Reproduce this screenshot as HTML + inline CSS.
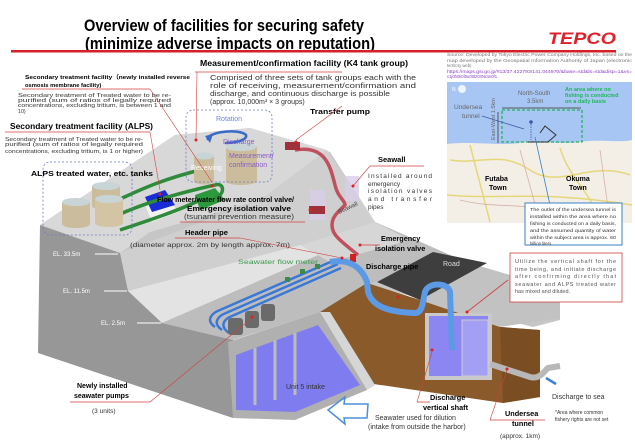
<!DOCTYPE html>
<html><head><meta charset="utf-8"><style>
html,body{margin:0;padding:0;background:#fff;width:635px;height:448px;overflow:hidden}
svg{display:block}
text{font-family:"Liberation Sans",sans-serif}
.b{font-weight:bold}
</style></head><body>
<svg width="635" height="448" viewBox="0 0 635 448" xmlns="http://www.w3.org/2000/svg">
<!-- Title -->
<text x="84" y="31" class="b" font-size="17" textLength="280" lengthAdjust="spacingAndGlyphs">Overview of facilities for securing safety</text>
<text x="85" y="49" class="b" font-size="17" textLength="290" lengthAdjust="spacingAndGlyphs">(minimize adverse impacts on reputation)</text>
<rect x="11" y="50" width="605" height="2.5" fill="#d4202a"/>
<text x="548" y="44" class="b" font-size="17" fill="#e0202a" font-style="italic" textLength="68" lengthAdjust="spacingAndGlyphs">TEPCO</text>

<!-- Map -->
<text x="447" y="56" font-size="4.2" fill="#777" textLength="185" lengthAdjust="spacingAndGlyphs">Source: Developed by Tokyo Electric Power Company Holdings, Inc. based on the</text>
<text x="447" y="62" font-size="4.2" fill="#777" textLength="185" lengthAdjust="spacingAndGlyphs">map developed by the Geospatial Information Authority of Japan (electronic</text>
<text x="447" y="67" font-size="4.2" fill="#777">territory web)</text>
<text x="447" y="73" font-size="4.2" fill="#8a3cc8" textLength="185" lengthAdjust="spacingAndGlyphs">https://maps.gsi.go.jp/#13/37.422793/141.044970/&amp;base=std&amp;ls=std&amp;disp=1&amp;vs=</text>
<text x="447" y="78" font-size="4.2" fill="#8a3cc8">c1j0h0k0l0u0t0z0r0s0m0f1</text>
<rect x="447" y="82" width="185" height="141" fill="#f3efe6"/>
<path d="M447,82 H632 V140 C620,143 600,139 580,142 C560,145 540,140 520,143 C500,146 470,141 447,144 Z" fill="#a8c6f4"/>
<g stroke="#e6d77a" stroke-width="1.5" fill="none">
<path d="M450,160 C480,165 500,150 530,170 S590,160 630,175"/>
<path d="M470,145 L490,222"/><path d="M560,148 C570,180 590,190 600,222"/>
<path d="M447,195 C500,200 540,190 632,205"/>
</g>
<g stroke="#d8b0a8" stroke-width="0.8" fill="none">
<path d="M460,200 C500,210 520,200 560,215"/><path d="M520,150 L540,222"/><path d="M600,150 L610,222"/>
</g>
<circle cx="462" cy="89" r="4" fill="#fff" opacity="0.8"/>
<text x="452" y="91" font-size="5" fill="#fff">N</text>
<rect x="502" y="110" width="80" height="32" fill="none" stroke="#1fb55a" stroke-width="1.3" stroke-dasharray="3,2"/>
<line x1="502" y1="108" x2="581" y2="108" stroke="#555" stroke-width="1"/>
<line x1="498" y1="112" x2="498" y2="143" stroke="#555" stroke-width="1"/>
<text x="518" y="95" font-size="6" fill="#666">North-South</text>
<text x="527" y="103" font-size="6" fill="#666">3.5km</text>
<text x="565" y="91" font-size="5.5" class="b" fill="#1fb55a">An area where no</text>
<text x="565" y="97" font-size="5.5" class="b" fill="#1fb55a">fishing is conducted</text>
<text x="565" y="103" font-size="5.5" class="b" fill="#1fb55a">on a daily basis</text>
<text x="454" y="109" font-size="6.5" fill="#666">Undersea</text>
<text x="462" y="118" font-size="6.5" fill="#666">tunnel</text>
<line x1="482" y1="116" x2="524" y2="129" stroke="#3a5aa8" stroke-width="0.8"/>
<circle cx="531" cy="122" r="1.8" fill="#3a5aa8"/>
<line x1="531" y1="124" x2="531" y2="140" stroke="#3a5aa8" stroke-width="0.8" stroke-dasharray="1.5,1"/>
<path d="M528,142 L548,142 L556,135 L545,126 L540,133" fill="none" stroke="#333" stroke-width="1"/>
<text transform="translate(495,140) rotate(-90)" font-size="5.5" fill="#666">East-West 1.5km</text>
<text x="485" y="181" font-size="7" class="b">Futaba</text>
<text x="489" y="190" font-size="7" class="b">Town</text>
<text x="566" y="181" font-size="7" class="b">Okuma</text>
<text x="569" y="190" font-size="7" class="b">Town</text>
<line x1="535" y1="137" x2="550" y2="205" stroke="#3a80c8" stroke-width="0.8"/>
<rect x="525" y="203" width="97" height="42" fill="#fff" stroke="#3a80c8" stroke-width="1"/>
<g font-size="4.3" fill="#333">
<text x="530" y="211" textLength="86" lengthAdjust="spacingAndGlyphs">The outlet of the undersea tunnel is</text>
<text x="530" y="218" textLength="86" lengthAdjust="spacingAndGlyphs">installed within the area where no</text>
<text x="530" y="225" textLength="86" lengthAdjust="spacingAndGlyphs">fishing is conducted on a daily basis,</text>
<text x="530" y="232" textLength="86" lengthAdjust="spacingAndGlyphs">and the assumed quantity of water</text>
<text x="530" y="239" textLength="86" lengthAdjust="spacingAndGlyphs">within the subject area is approx. 60</text>
<text x="530" y="245" >billion liters.</text>
</g>

<!-- Structure -->
<polygon points="40,225 175,135 250,128 330,152 375,222 450,255 560,300 560,320 533,327 367,285 320,312 233,340 162,323 128,291 120,253" fill="#c6c6c6"/>
<!-- top slab surface -->
<polygon points="40,225 175,135 250,128 327,150 260,200 150,232 120,253" fill="#d8d8d8"/>
<!-- slope bands -->
<polygon points="120,253 260,200 327,150 375,222 300,245 128,291" fill="#cfcfcf"/>
<polygon points="128,291 300,245 330,250 162,323" fill="#e3e3e3"/>
<polygon points="162,323 330,250 375,222 450,255 367,285 320,312 233,340" fill="#bdbdbd"/>
<polygon points="300,245 375,222 410,240 330,262" fill="#d6d6d6"/>
<!-- dark left face -->
<polygon points="40,225 120,253 128,291 162,323 233,340 233,418 38,353" fill="#979797"/>
<!-- road & pavement -->
<polygon points="433,252 560,290 560,318 500,327 420,300 487,263" fill="#c2c2c2"/>
<polygon points="377,282 433,252 487,263 420,300" fill="#3e3e3e"/>
<!-- brown earth -->
<polygon points="320,312 367,283 420,300 500,327 540,330 540,397 503,403 367,383" fill="#8a5a2a"/>
<polygon points="500,327 540,330 540,397 503,403" fill="#7a4e22"/>
<!-- shaft -->
<rect x="425" y="313" width="67" height="67" fill="#c9c9c9"/>
<rect x="429" y="316" width="59" height="60" fill="#8c86f2"/>
<rect x="462" y="320" width="26" height="56" fill="#a39ff5" stroke="#ccc" stroke-width="1"/>
<!-- intake pit -->
<polygon points="228,342 320,312 367,383 367,390 295,420 233,418" fill="#b0b0b0"/>
<polygon points="236,355 318,325 360,385 295,412 236,410" fill="#7f7cf0"/>
<g stroke="#bcbcbc" stroke-width="3"><line x1="255" y1="348" x2="255" y2="405"/><line x1="275" y1="340" x2="275" y2="400"/><line x1="295" y1="333" x2="295" y2="395"/></g>
<polygon points="320,312 330,312 375,385 367,390" fill="#d6d6d6"/>
<!-- ALPS area pads -->
<polygon points="145,205 168,197 178,212 152,222" fill="#f2f2f2"/>
<polygon points="145,197 165,190 175,205 152,212" fill="#1a2cd8"/>
<polygon points="195,195 215,188 225,200 200,210" fill="#2c9a3c"/>
<!-- green pipes -->
<g stroke="#2e8b3a" stroke-width="3.5" fill="none">
<path d="M118,200 C140,190 160,180 200,170 C210,168 215,175 210,180"/>
<path d="M118,215 C140,205 170,195 215,185 C225,182 225,195 215,198"/>
<path d="M120,230 C150,220 180,210 200,200"/>
</g>
<!-- ALPS tanks -->
<g>
<rect x="62" y="202" width="28" height="22" fill="#cbbd9c"/><ellipse cx="76" cy="224" rx="14" ry="4" fill="#cbbd9c"/><ellipse cx="76" cy="202" rx="14" ry="4" fill="#c8d4d6"/>
<rect x="92" y="186" width="28" height="20" fill="#cbbd9c"/><ellipse cx="106" cy="206" rx="14" ry="4" fill="#cbbd9c"/><ellipse cx="106" cy="186" rx="14" ry="4" fill="#c8d4d6"/>
<rect x="95" y="199" width="28" height="24" fill="#d3c5a4"/><ellipse cx="109" cy="223" rx="14" ry="4" fill="#d3c5a4"/><ellipse cx="109" cy="199" rx="14" ry="4" fill="#c8d4d6"/>
<rect x="194" y="156" width="20" height="25" fill="#cbbd9c"/><ellipse cx="204" cy="181" rx="10" ry="3.5" fill="#cbbd9c"/><ellipse cx="204" cy="156" rx="10" ry="3.5" fill="#c8d4d6"/>
<rect x="226" y="147" width="31" height="34" fill="#cbbd9c"/><ellipse cx="241" cy="181" rx="15.5" ry="4" fill="#cbbd9c"/><ellipse cx="241" cy="147" rx="15.5" ry="4" fill="#c8d4d6"/>
</g>
<rect x="43" y="162" width="89" height="73" rx="7" fill="none" stroke="#6a7bc8" stroke-width="0.8" stroke-dasharray="2,2"/>
<rect x="186" y="110" width="86" height="72" rx="7" fill="none" stroke="#6a7bc8" stroke-width="0.8" stroke-dasharray="2,2"/>
<path d="M208,140 C205,132 240,128 246,135 C248,140 235,143 225,143" fill="none" stroke="#3a6ac8" stroke-width="2.5"/>
<polygon points="205,136 213,134 210,143" fill="#3a6ac8"/>
<!-- seawall -->
<rect x="310" y="190" width="15" height="30" fill="#d8cde8" opacity="0.8"/>
<rect x="345" y="176" width="14" height="25" fill="#d8cde8" opacity="0.8"/>
<!-- red transfer pipe -->
<path d="M295,150 C325,145 330,165 335,185 C338,198 345,200 345,205 L338,212 C330,220 330,230 338,238 C345,245 352,250 358,255" fill="none" stroke="#c0505e" stroke-width="3.5"/>
<rect x="285" y="142" width="15" height="8" fill="#a0303a"/>
<rect x="309" y="206" width="16" height="8" fill="#a0303a"/>
<rect x="350" y="254" width="6" height="8" fill="#d02020"/>
<!-- blue pipes -->
<g stroke="#3a78d8" stroke-width="2.5" fill="none">
<path d="M215,327 C205,320 212,313 220,310 L335,260"/>
<path d="M222,330 C212,323 218,316 226,313 L338,264"/>
<path d="M229,333 C219,326 224,319 232,316 L341,268"/>
</g>
<g fill="#3c8a4a"><rect x="285" y="277" width="5" height="5"/><rect x="300" y="269" width="5" height="5"/><rect x="315" y="264" width="5" height="5"/></g>
<path d="M330,262 C350,258 362,268 367,282 L368,292 C372,305 385,312 415,313 C423,313 423,300 425,292 C428,282 448,282 450,292 L452,350" fill="none" stroke="#5c9ae6" stroke-width="6"/>
<path d="M490,364 L530,377 C540,380 545,370 548,368 L560,366" fill="none" stroke="#b8b8b8" stroke-width="6"/>
<path d="M546,378 L556,384" stroke="#3a80d8" stroke-width="2.5"/>
<!-- pumps -->
<g fill="#6a6a6a"><rect x="228" y="318" width="15" height="17" rx="3"/><rect x="245" y="311" width="14" height="17" rx="3"/><rect x="261" y="304" width="14" height="17" rx="3"/></g>
<!-- big arrow -->
<polygon points="328,410 345,397 344,404 368,404 367,418 344,418 345,424" fill="none" stroke="#4a90d8" stroke-width="1.5"/>

<!-- labels -->
<text x="200" y="66" class="b" font-size="8" textLength="208" lengthAdjust="spacingAndGlyphs">Measurement/confirmation facility (K4 tank group)</text>
<line x1="195" y1="72" x2="342" y2="72" stroke="#d04040" stroke-width="0.8"/>
<g font-size="7" fill="#333">
<text x="210" y="80" textLength="206" lengthAdjust="spacingAndGlyphs">Comprised of three sets of tank groups each with the</text>
<text x="210" y="88" textLength="206" lengthAdjust="spacingAndGlyphs">role of receiving, measurement/confirmation and</text>
<text x="210" y="96" textLength="180" lengthAdjust="spacingAndGlyphs">discharge, and continuous discharge is possible</text>
<text x="210" y="104">(approx. 10,000m³ × 3 groups)</text>
</g>
<text x="25" y="79" class="b" font-size="5.8" textLength="165" lengthAdjust="spacingAndGlyphs">Secondary treatment facility（newly installed reverse</text>
<text x="25" y="87" class="b" font-size="5.8">osmosis membrane facility)</text>
<line x1="22" y1="89" x2="150" y2="89" stroke="#d04040" stroke-width="0.8"/>
<g font-size="5.3" fill="#333">
<text x="18" y="97" textLength="153" lengthAdjust="spacingAndGlyphs">Secondary treatment of Treated water to be re-</text>
<text x="18" y="102" textLength="153" lengthAdjust="spacingAndGlyphs">purified (sum of ratios of legally required</text>
<text x="18" y="107" textLength="153" lengthAdjust="spacingAndGlyphs">concentrations, excluding tritium, is between 1 and</text>
<text x="18" y="113">10)</text>
</g>
<text x="10" y="129" class="b" font-size="8" textLength="143" lengthAdjust="spacingAndGlyphs">Secondary treatment facility (ALPS)</text>
<line x1="5" y1="132" x2="150" y2="132" stroke="#d04040" stroke-width="0.8"/>
<g font-size="5.3" fill="#333">
<text x="5" y="141" textLength="138" lengthAdjust="spacingAndGlyphs">Secondary treatment of Treated water to be re-</text>
<text x="5" y="146" textLength="138" lengthAdjust="spacingAndGlyphs">purified (sum of ratios of legally required</text>
<text x="5" y="153" textLength="138" lengthAdjust="spacingAndGlyphs">concentrations, excluding tritium, is 1 or higher)</text>
</g>
<text x="31" y="176" class="b" font-size="7.3" textLength="122" lengthAdjust="spacingAndGlyphs">ALPS treated water, etc. tanks</text>
<text x="216" y="121" font-size="7" fill="#6a8ad8">Rotation</text>
<text x="223" y="144" font-size="7" fill="#8a5ac8">Discharge</text>
<text x="229" y="158" font-size="7" fill="#8a5ac8">Measurement/</text>
<text x="229" y="167" font-size="7" fill="#8a5ac8">confirmation</text>
<text x="191" y="170" font-size="7" fill="#fff">Receiving</text>
<text x="310" y="114" class="b" font-size="7.5" textLength="60" lengthAdjust="spacingAndGlyphs">Transfer pump</text>
<text x="378" y="162" class="b" font-size="7.5">Seawall</text>
<line x1="370" y1="166" x2="424" y2="166" stroke="#d04040" stroke-width="0.8"/>
<g font-size="6.5" fill="#333">
<text x="368" y="178" textLength="64" lengthAdjust="spacing">Installed around</text>
<text x="368" y="186">emergency</text>
<text x="368" y="193" textLength="64" lengthAdjust="spacing">isolation valves</text>
<text x="368" y="201" textLength="64" lengthAdjust="spacing">and transfer</text>
<text x="368" y="209">pipes</text>
</g>
<text x="339" y="214" font-size="6" fill="#444" transform="rotate(-25 339 214)">Seawall</text>
<text x="157" y="202" class="b" font-size="7.3" textLength="137" lengthAdjust="spacingAndGlyphs">Flow meter/water flow rate control valve/</text>
<text x="187" y="211" class="b" font-size="7.3" textLength="104" lengthAdjust="spacingAndGlyphs">Emergency isolation valve</text>
<text x="184" y="219" font-size="7" fill="#333" textLength="110" lengthAdjust="spacingAndGlyphs">(tsunami prevention measure)</text>
<line x1="180" y1="222" x2="305" y2="222" stroke="#d04040" stroke-width="0.8"/>
<text x="185" y="235" class="b" font-size="7.5">Header pipe</text>
<line x1="175" y1="238" x2="240" y2="238" stroke="#d04040" stroke-width="0.8"/>
<text x="130" y="247" font-size="6.5" fill="#333" textLength="160" lengthAdjust="spacingAndGlyphs">(diameter approx. 2m by length approx. 7m)</text>
<text x="381" y="241" class="b" font-size="7.3">Emergency</text>
<text x="375" y="251" class="b" font-size="7.3">isolation valve</text>
<line x1="360" y1="245" x2="380" y2="245" stroke="#d04040" stroke-width="0.8"/>
<text x="366" y="269" class="b" font-size="7.3">Discharge pipe</text>
<text x="443" y="266" font-size="7" fill="#ddd">Road</text>
<text x="238" y="264" font-size="6.5" fill="#3a9a4a" textLength="80" lengthAdjust="spacingAndGlyphs">Seawater flow meter</text>
<g font-size="6" fill="#fff">
<text x="53" y="256">EL. 33.5m</text><line x1="95" y1="254" x2="118" y2="254" stroke="#fff"/>
<text x="63" y="293">EL. 11.5m</text><line x1="104" y1="291" x2="127" y2="291" stroke="#fff"/>
<text x="101" y="325">EL. 2.5m</text><line x1="137" y1="323" x2="161" y2="323" stroke="#fff"/>
</g>
<rect x="510" y="253" width="112" height="49" fill="#fff" stroke="#d04040" stroke-width="0.8"/>
<g font-size="5.5" fill="#555">
<text x="515" y="263" textLength="101" lengthAdjust="spacing">Utilize the vertical shaft for the</text>
<text x="515" y="271" textLength="101" lengthAdjust="spacing">time being, and initiate discharge</text>
<text x="515" y="278" textLength="101" lengthAdjust="spacing">after confirming directly that</text>
<text x="515" y="286" textLength="101" lengthAdjust="spacing">seawater and ALPS treated water</text>
<text x="515" y="293">has mixed and diluted.</text>
</g>
<line x1="508" y1="280" x2="467" y2="312" stroke="#d04040" stroke-width="0.8"/>
<text x="286" y="389" font-size="7" fill="#333">Unit 5 intake</text>
<text x="77" y="388" class="b" font-size="7">Newly installed</text>
<text x="74" y="398" class="b" font-size="7">seawater pumps</text>
<line x1="70" y1="402" x2="150" y2="402" stroke="#d04040" stroke-width="0.8"/>
<line x1="150" y1="402" x2="252" y2="318" stroke="#d04040" stroke-width="0.6"/>
<text x="92" y="413" font-size="6.5" fill="#333">(3 units)</text>
<text x="430" y="400" class="b" font-size="7.3">Discharge</text>
<text x="423" y="410" class="b" font-size="7.3">vertical shaft</text>
<line x1="417" y1="402" x2="430" y2="402" stroke="#d04040" stroke-width="0.8"/>
<line x1="417" y1="402" x2="432" y2="352" stroke="#d04040" stroke-width="0.6"/>
<text x="375" y="420" font-size="7" fill="#333">Seawater used for dilution</text>
<text x="368" y="429" font-size="7" fill="#333">(intake from outside the harbor)</text>
<text x="505" y="416" class="b" font-size="7.3">Undersea</text>
<text x="512" y="426" class="b" font-size="7.3">tunnel</text>
<line x1="490" y1="420" x2="545" y2="420" stroke="#d04040" stroke-width="0.8"/>
<line x1="490" y1="420" x2="507" y2="370" stroke="#d04040" stroke-width="0.6"/>
<text x="500" y="438" font-size="6.5" fill="#333">(approx. 1km)</text>
<text x="552" y="399" font-size="7" fill="#333">Discharge to sea</text>
<text x="555" y="414" font-size="5" fill="#333">*Area where common</text>
<text x="555" y="421" font-size="5" fill="#333">fishery rights are not set</text>
<!-- red leader lines & dots -->
<g stroke="#d04040" stroke-width="0.6">
<line x1="150" y1="89" x2="212" y2="182"/><line x1="150" y1="132" x2="160" y2="190"/>
<line x1="197" y1="72" x2="196" y2="140"/><line x1="342" y1="106" x2="296" y2="140"/>
<line x1="370" y1="166" x2="353" y2="186"/><line x1="240" y1="238" x2="342" y2="258"/>
</g>
<g fill="#e02020"><circle cx="212" cy="186" r="1.5"/><circle cx="160" cy="194" r="1.5"/><circle cx="196" cy="140" r="1.5"/><circle cx="296" cy="142" r="1.5"/><circle cx="353" cy="186" r="1.5"/><circle cx="342" cy="258" r="1.5"/><circle cx="252" cy="317" r="1.5"/><circle cx="398" cy="297" r="1.5"/><circle cx="432" cy="350" r="1.5"/><circle cx="507" cy="369" r="1.5"/><circle cx="467" cy="312" r="1.5"/><circle cx="360" cy="245" r="1.5"/><circle cx="310" cy="210" r="1.5"/></g>
</svg>
</body></html>
